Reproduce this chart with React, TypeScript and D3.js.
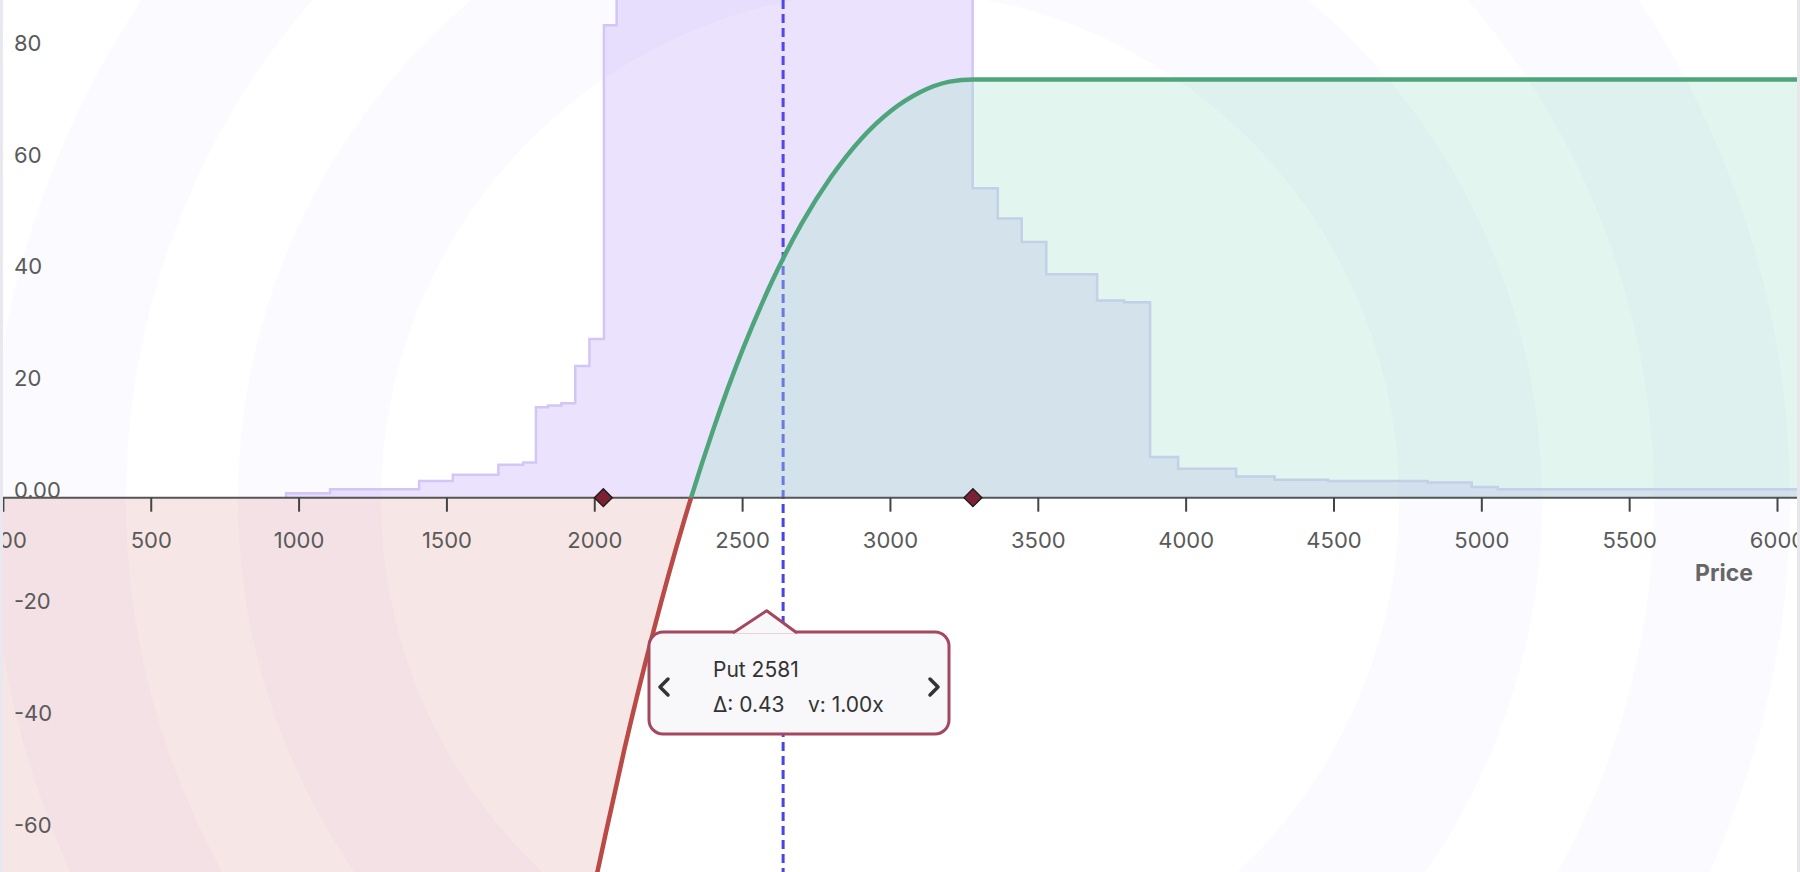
import React from 'react';
import * as d3 from 'd3';

const W = 1800;
const H = 872;

// ---- data ----
const xTicks = [0, 500, 1000, 1500, 2000, 2500, 3000, 3500, 4000, 4500, 5000, 5500, 6000];
const xTickLabels = ['0.00', '500', '1000', '1500', '2000', '2500', '3000', '3500', '4000', '4500', '5000', '5500', '6000'];
const yTicks = [-60, -40, -20, 0, 20, 40, 60, 80];
const yTickLabels = ['-60', '-40', '-20', '0.00', '20', '40', '60', '80'];

// liquidity histogram (bin start edges + heights), last edge closes the final bin
const histEdges = [956, 1105, 1406, 1520, 1674, 1758, 1801, 1842, 1887, 1934, 1982, 2031, 2074, 3278, 3363, 3444, 3527, 3699, 3790, 3878, 3973, 4169, 4299, 4480, 4817, 4966, 5054, 6300];
const histHeights = [0.8, 1.5, 3.0, 4.1, 5.9, 6.3, 16.2, 16.5, 16.9, 23.6, 28.4, 84.6, 100, 55.4, 50.0, 45.8, 40.0, 35.3, 35.0, 7.3, 5.2, 3.8, 3.2, 3.0, 2.7, 1.9, 1.5];

// payoff curve (linear below the range, flat above it)
const payoffPrices = [-200, 1950, 2000, 2031, 2100, 2200, 2300, 2400, 2500, 2600, 2700, 2800, 2900, 3000, 3100, 3200, 3280, 6300];
const payoffValues = [-615, -81.6, -69.2, -61.6, -45.1, -23.6, -4.5, 12.1, 26.5, 38.8, 49.1, 57.5, 64.2, 69.2, 72.6, 74.5, 74.9, 74.9];

const rangeMarkers = [2029, 3279];
const currentPrice = 2637;
const xAxisTitle = 'Price';
const tooltipTitle = 'Put 2581';
const tooltipDelta = 'Δ: 0.43';
const tooltipVol = 'v: 1.00x';

const FONT = 'Inter, "Noto Sans", sans-serif';

export default function App() {
  const x = d3.scaleLinear().domain([0, 6000]).range([3.4, 1777.5]);
  const y = d3.scaleLinear().domain([0, 80]).range([497.7, 50.9]);
  const y0 = y(0);

  const histPts = histHeights.map((h, i) => ({ p: histEdges[i], v: h }));
  histPts.push({ p: histEdges[histEdges.length - 1], v: histHeights[histHeights.length - 1] });
  const histArea = d3
    .area<{ p: number; v: number }>()
    .x((d) => x(d.p))
    .y0(y0)
    .y1((d) => y(d.v))
    .curve(d3.curveStepAfter)(histPts) as string;
  const histLine = d3
    .line<{ p: number; v: number }>()
    .x((d) => x(d.p))
    .y((d) => y(d.v))
    .curve(d3.curveStepAfter)([{ p: histEdges[0], v: 0 }, ...histPts]) as string;

  const payPts = payoffPrices.map((p, i) => ({ p, v: payoffValues[i] }));
  const payLine = d3
    .line<{ p: number; v: number }>()
    .x((d) => x(d.p))
    .y((d) => y(d.v))
    .curve(d3.curveMonotoneX)(payPts) as string;
  const payArea = d3
    .area<{ p: number; v: number }>()
    .x((d) => x(d.p))
    .y0(y0)
    .y1((d) => y(d.v))
    .curve(d3.curveMonotoneX)(payPts) as string;

  const cx = 890;
  const cy = 500;

  return (
    <div style={{ position: 'absolute', left: 0, top: 0, width: W, height: H, overflow: 'hidden', background: '#fff' }}>
      <svg width={W} height={H} style={{ display: 'block', fontFamily: FONT }}>
        <defs>
          <clipPath id="plot">
            <rect x={3} y={0} width={1794} height={H} />
          </clipPath>
          <clipPath id="above">
            <rect x={0} y={0} width={W} height={y0} />
          </clipPath>
          <clipPath id="below">
            <rect x={0} y={y0} width={W} height={H - y0} />
          </clipPath>
        </defs>
        <rect x={0} y={0} width={W} height={H} fill="#ffffff" />
        <g clipPath="url(#plot)">
          {/* decorative rings */}
          <circle cx={cx} cy={cy} r={580.5} fill="none" stroke="#fbfaff" strokeWidth={143} />
          <circle cx={cx} cy={cy} r={832} fill="none" stroke="#fbfaff" strokeWidth={136} />

          {/* current price */}
          <line x1={x(currentPrice)} x2={x(currentPrice)} y1={0} y2={H} stroke="#4646e6" strokeWidth={3} strokeDasharray="9,5" />

          {/* histogram */}
          <path d={histArea} fill="rgba(130,80,240,0.16)" />
          <path d={histLine} fill="none" stroke="#d2c6f6" strokeWidth={2.5} />

          {/* payoff fills */}
          <path d={payArea} fill="rgba(167,225,203,0.33)" clipPath="url(#above)" />
          <path d={payArea} fill="rgba(190,60,60,0.13)" clipPath="url(#below)" />

          {/* x axis */}
          <line x1={0} x2={W} y1={y0} y2={y0} stroke="#555" strokeWidth={2} />
          {xTicks.map((t) => (
            <line key={t} x1={x(t)} x2={x(t)} y1={y0} y2={y0 + 14} stroke="#444" strokeWidth={2} />
          ))}

          {/* payoff lines */}
          <path d={payLine} fill="none" stroke="#4ea57b" strokeWidth={4.5} clipPath="url(#above)" />
          <path d={payLine} fill="none" stroke="#b94a46" strokeWidth={4.5} clipPath="url(#below)" />

          {/* range markers */}
          {rangeMarkers.map((m) => (
            <path
              key={m}
              transform={`translate(${x(m)},${y0})`}
              d="M0,-9L9,0L0,9L-9,0Z"
              fill="#7a2233"
              stroke="#1a1a1a"
              strokeWidth={1.3}
            />
          ))}

          {/* x tick labels */}
          {xTicks.map((t, i) => (
            <text key={t} x={x(t)} y={548} textAnchor="middle" fontSize={22} fill="#5a5a5a">
              {xTickLabels[i]}
            </text>
          ))}
          {/* y tick labels */}
          {yTicks.map((t, i) => (
            <text key={t} x={14} y={y(t)} textAnchor="start" fontSize={22} fill="#5a5a5a">
              {yTickLabels[i]}
            </text>
          ))}
          <text x={1753} y={581} textAnchor="end" fontSize={23} fontWeight={700} fill="#666">
            {xAxisTitle}
          </text>

          {/* tooltip */}
          <rect x={649} y={632} width={300} height={102} rx={14} fill="#f8f8fa" stroke="#a3485f" strokeWidth={3} />
          <polygon points="733,634 766.7,610.7 797,634" fill="#f8f8fa" />
          <path d="M733,633 L766.7,610.7 L797,633" fill="none" stroke="#a3485f" strokeWidth={3} strokeLinejoin="round" />
          <line x1={736} x2={794} y1={633.5} y2={633.5} stroke="#ecd3d9" strokeWidth={1} />
          <path d="M668,679 L660,687 L668,695" fill="none" stroke="#333" strokeWidth={3.5} strokeLinecap="round" strokeLinejoin="round" />
          <path d="M930,679 L938,687 L930,695" fill="none" stroke="#333" strokeWidth={3.5} strokeLinecap="round" strokeLinejoin="round" />
          <text x={713} y={677} fontSize={21} fill="#333">{tooltipTitle}</text>
          <text x={713} y={712} fontSize={21} fill="#333">{tooltipDelta}</text>
          <text x={808} y={712} fontSize={21} fill="#333">{tooltipVol}</text>
        </g>
        {/* frame edges */}
        <rect x={0} y={0} width={3} height={H} fill="#e8e8ee" />
        <rect x={1797} y={0} width={3} height={H} fill="#e6e6eb" />
      </svg>
    </div>
  );
}
